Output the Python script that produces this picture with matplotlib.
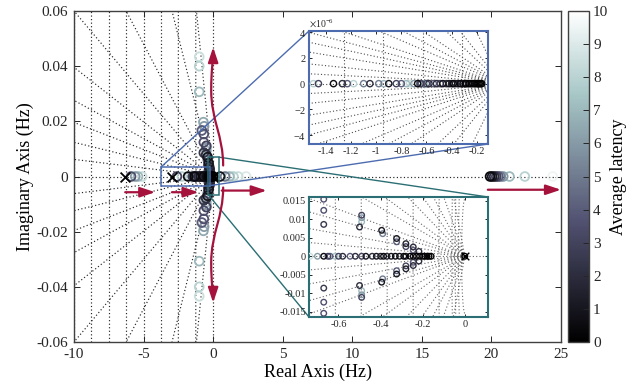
import numpy as np
import matplotlib
matplotlib.use('Agg')
import matplotlib.pyplot as plt
from matplotlib.patches import Rectangle, FancyArrowPatch, ConnectionPatch
from matplotlib.path import Path
from matplotlib.ticker import FuncFormatter, ScalarFormatter
import matplotlib.colors as mcolors

plt.rcParams['font.family'] = ['Liberation Serif', 'DejaVu Serif']
plt.rcParams['mathtext.fontset'] = 'stix'
plt.rcParams['axes.unicode_minus'] = False

# ---------------- data ----------------
# closed-loop poles on the real axis (Hz) and their average latency
real_x = [-5.9, -5.6, -5.4, -5.1,
          -2.6, -2.25, -1.8, -1.77,
          -1.50, -1.46, -1.34, -1.27, -1.23, -1.18, -1.10, -1.05, -0.98, -0.94,
          -0.90, -0.84, -0.80, -0.76, -0.735, -0.70, -0.67, -0.65, -0.64, -0.616,
          -0.60, -0.58, -0.545, -0.52, -0.49, -0.47, -0.44, -0.42, -0.40, -0.386,
          -0.37, -0.35, -0.33, -0.31, -0.29, -0.28, -0.26, -0.245, -0.23, -0.215,
          -0.20, -0.19, -0.18, -0.17, -0.16,
          0.0,
          0.5, 0.86, 1.17, 1.46, 1.8, 2.37,
          19.9, 20.05, 20.2, 20.35, 20.5, 20.65, 20.85, 21.3, 22.4, 24.4]
real_lat = [3.5, 6.0, 7.0, 8.5,
            3.0, 8.0, 0.5, 9.8,
            8.0, 3.0, 0.5, 2.0, 4.0, 8.0, 5.0, 2.0, 5.0, 7.0,
            1.0, 3.0, 4.0, 7.0, 8.5, 6.0, 0.5, 3.0, 4.0, 7.5,
            3.0, 2.0, 4.0, 2.0, 3.0, 1.0, 2.0, 1.0, 1.5, 0.5,
            2.0, 1.0, 0.5, 1.0, 0.3, 1.0, 0.2, 0.5, 0.3, 0.2,
            0.4, 0.1, 0.2, 0.1, 0.3,
            0.0,
            1.0, 5.0, 7.0, 8.0, 8.5, 9.0,
            0.5, 1.0, 2.0, 3.0, 4.0, 5.0, 6.0, 7.0, 8.0, 9.5]

# complex-conjugate poles (upper half given, lower half mirrored)
cplx_x = [-1.0, -1.0, -1.0, -0.70, -0.65, -0.81,
          -0.67, -0.67, -0.67, -0.49, -0.49, -0.49, -0.50,
          -0.395, -0.39, -0.324, -0.324, -0.28, -0.28, -0.245, -0.245, -0.218]
cplx_y = [0.0434, 0.0400, 0.0307, 0.0197, 0.0182, 0.0167,
          0.0154, 0.0124, 0.0086, 0.0111, 0.0104, 0.0093, 0.0079,
          0.0070, 0.0061, 0.0048, 0.0039, 0.0034, 0.0026, 0.0025, 0.0016, 0.0013]
cplx_lat = [8.5, 8.0, 7.0, 6.5, 6.0, 4.0,
            3.5, 3.5, 2.5, 3.0, 6.0, 7.0, 2.0,
            1.0, 5.0, 1.0, 4.0, 1.5, 3.0, 2.0, 4.0, 2.0]

# open-loop poles (crosses)
cross_x = [-6.3, -2.95, 0.0]

main_xticks = [-10, -5, 0, 5, 10, 15, 20, 25]
main_yticks = [-0.06, -0.04, -0.02, 0, 0.02, 0.04, 0.06]
in1_xticks = [-1.4, -1.2, -1.0, -0.8, -0.6, -0.4, -0.2]
in1_yticks = [-4e-6, -2e-6, 0, 2e-6, 4e-6]
in2_xticks = [-0.6, -0.4, -0.2, 0]
in2_yticks = [-0.015, -0.01, -0.005, 0, 0.005, 0.01, 0.015]
cbar_ticks = [0, 1, 2, 3, 4, 5, 6, 7, 8, 9, 10]

# ---------------- style ----------------
cmap = plt.get_cmap('bone')
norm = mcolors.Normalize(0, 10)
RED = '#a5123c'
BLUE = '#4d6cb0'
TEAL = '#2b6f74'
fmt = FuncFormatter(lambda v, p: f'{v:g}')

xs = np.array(real_x + cplx_x + cplx_x)
ys = np.array([0.0] * len(real_x) + cplx_y + [-v for v in cplx_y])
lat = np.array(real_lat + cplx_lat + cplx_lat)
order = np.argsort(-lat, kind='stable')
xs, ys, lat = xs[order], ys[order], lat[order]

fig = plt.figure(figsize=(6.36, 3.84), dpi=100)
W, H = 636, 384


def px_axes(x0, y0, x1, y1):
    return fig.add_axes([x0 / W, 1 - y1 / H, (x1 - x0) / W, (y1 - y0) / H])


def sgrid(a, radii, slopes, ymax, color, lw=0.8, zero_line=False):
    for r in radii:
        yy = np.linspace(-min(r, ymax), min(r, ymax), 400)
        xx = -np.sqrt(np.maximum(r ** 2 - yy ** 2, 0))
        a.plot(xx, yy, ls=(0, (1, 2)), color=color, lw=lw, zorder=1)
    for s in slopes:
        X = 1000.0
        a.plot([0, -X], [0, s * X], ls=(0, (1, 2)), color=color, lw=lw, zorder=1)
        a.plot([0, -X], [0, -s * X], ls=(0, (1, 2)), color=color, lw=lw, zorder=1)
    a.axhline(0, ls=(0, (1, 2)), color=color, lw=lw, zorder=1)
    if zero_line:
        a.axvline(0, ls=(0, (1, 2)), color=color, lw=lw, zorder=1)


def draw_points(a, s, lw, xs_ms):
    a.scatter(xs, ys, s=s, facecolors='none', edgecolors=cmap(norm(lat)),
              linewidths=lw, zorder=3)
    a.scatter(cross_x, [0] * len(cross_x), marker='x', s=xs_ms, c='k',
              linewidths=lw, zorder=4)


def style_axes(a, color, fs, spine_lw, tl):
    for sp in a.spines.values():
        sp.set_color(color)
        sp.set_linewidth(spine_lw)
    a.tick_params(direction='in', top=True, right=True, length=tl, width=0.7,
                  labelsize=fs, colors='0.15', pad=2)


# ---------------- main axes ----------------
ax = px_axes(74, 11, 561, 342)
ax.set_xlim(-10, 25)
ax.set_ylim(-0.06, 0.06)
sgrid(ax, [1.25, 2.5, 3.75, 5.0, 6.25, 7.5, 8.75, 10.0],
      [0.00062, 0.00124, 0.00196, 0.00276, 0.00396, 0.006, 0.0096, 0.0203, 0.05],
      0.06, '0.15', lw=0.85, zero_line=True)
draw_points(ax, 40, 1.3, 50)
ax.set_xticks(main_xticks)
ax.set_yticks(main_yticks)
ax.xaxis.set_major_formatter(fmt)
ax.yaxis.set_major_formatter(fmt)
style_axes(ax, '0.25', 11, 1.0, 4)
ax.tick_params(pad=4)
ax.set_xlabel('Real Axis (Hz)', fontsize=13, labelpad=2)
ax.set_ylabel('Imaginary Axis (Hz)', fontsize=13, labelpad=2)

# zoom rectangles
ax.add_patch(Rectangle((-3.75, -0.0033), 3.53, 0.0067, fill=False, ec=BLUE, lw=1.1, zorder=5))
ax.add_patch(Rectangle((-0.34, -0.00665), 0.77, 0.01365, fill=False, ec=TEAL, lw=1.1, zorder=5))

# red arrows
ast = '-|>,head_length=0.9,head_width=0.3'
for (xa, xb, yv) in [(-6.32, -4.16, -0.0057), (-2.96, -1.05, -0.0057),
                     (0.62, 3.85, -0.0051), (19.74, 25.0, -0.0048)]:
    ax.add_patch(FancyArrowPatch((xa, yv), (xb, yv), arrowstyle=ast, mutation_scale=10,
                                 color=RED, lw=1.6, shrinkA=0, shrinkB=0, zorder=6,
                                 clip_on=False))
up_v = [(0.72, 0.0040), (0.72, 0.0149), (-0.14, 0.0204), (-0.14, 0.0313),
        (-0.14, 0.0385), (0.0, 0.0422), (0.0, 0.0469)]
dn_v = [(0.72, -0.0040), (0.72, -0.0149), (-0.14, -0.0204), (-0.14, -0.0313),
        (-0.14, -0.0385), (0.0, -0.0422), (0.0, -0.0458)]
bez_codes = [Path.MOVETO] + [Path.CURVE4] * 6
for verts in (up_v, dn_v):
    ax.add_patch(FancyArrowPatch(path=Path(verts, bez_codes), arrowstyle=ast,
                                 mutation_scale=10, color=RED, lw=1.6, zorder=6))

# ---------------- inset 1 (blue) ----------------
in1 = px_axes(309, 31, 488, 144)
in1.set_xlim(-1.535, -0.11)
in1.set_ylim(-4.7e-6, 4.1e-6)
sgrid(in1, [0.315, 0.63, 0.945, 1.26, 1.575],
      [0.5e-6, 1.0e-6, 1.6e-6, 2.1e-6, 2.6e-6, 3.2e-6, 4.2e-6, 5.2e-6, 6.5e-6,
       9.2e-6, 12.3e-6, 20e-6, 40e-6],
      4.7e-6, '0.3', lw=0.8)
draw_points(in1, 20, 1.0, 24)
in1.set_xticks(in1_xticks)
in1.set_yticks(in1_yticks)
in1.xaxis.set_major_formatter(fmt)
sf = ScalarFormatter(useMathText=True)
sf.set_powerlimits((0, 0))
in1.yaxis.set_major_formatter(sf)
in1.yaxis.get_offset_text().set_fontsize(7)
in1.yaxis.get_offset_text().set_color('0.3')
style_axes(in1, BLUE, 7.5, 1.5, 2.5)

# ---------------- inset 2 (teal) ----------------
in2 = px_axes(309, 197, 488, 317)
in2.set_xlim(-0.74, 0.11)
in2.set_ylim(-0.0164, 0.016)
sgrid(in2, [0.0154, 0.0308, 0.0462, 0.0616, 0.123, 0.246, 0.369, 0.492, 0.615, 0.738],
      [0.005, 0.0101, 0.0162, 0.0211, 0.0327, 0.042, 0.059, 0.08, 0.107, 0.16, 0.3],
      0.0164, '0.4', lw=0.8)
draw_points(in2, 16, 1.0, 30)
in2.set_xticks(in2_xticks)
in2.set_yticks(in2_yticks)
in2.xaxis.set_major_formatter(fmt)
in2.yaxis.set_major_formatter(fmt)
style_axes(in2, TEAL, 7.5, 1.5, 2.5)

# connector lines
for (pa, pb, a2, c) in [((-3.75, 0.0034), (0, 1), in1, BLUE),
                        ((-0.22, -0.0033), (1, 0), in1, BLUE),
                        ((0.43, 0.007), (1, 1), in2, TEAL),
                        ((-0.34, -0.00665), (0, 0), in2, TEAL)]:
    con = ConnectionPatch(xyA=pa, coordsA=ax.transData, xyB=pb, coordsB=a2.transAxes,
                          color=c, lw=1.0, zorder=5)
    ax.add_artist(con)

# ---------------- colorbar ----------------
cax = px_axes(568, 11, 589, 342)
sm = matplotlib.cm.ScalarMappable(norm=norm, cmap=cmap)
cb = fig.colorbar(sm, cax=cax, ticks=cbar_ticks)
cb.outline.set_edgecolor('0.25')
cb.outline.set_linewidth(1.0)
cax.tick_params(direction='in', length=4, width=0.7, labelsize=11, colors='0.15', pad=3)
cb.set_label('Average latency', fontsize=13, labelpad=1)

fig.savefig('out.png', dpi=100)
